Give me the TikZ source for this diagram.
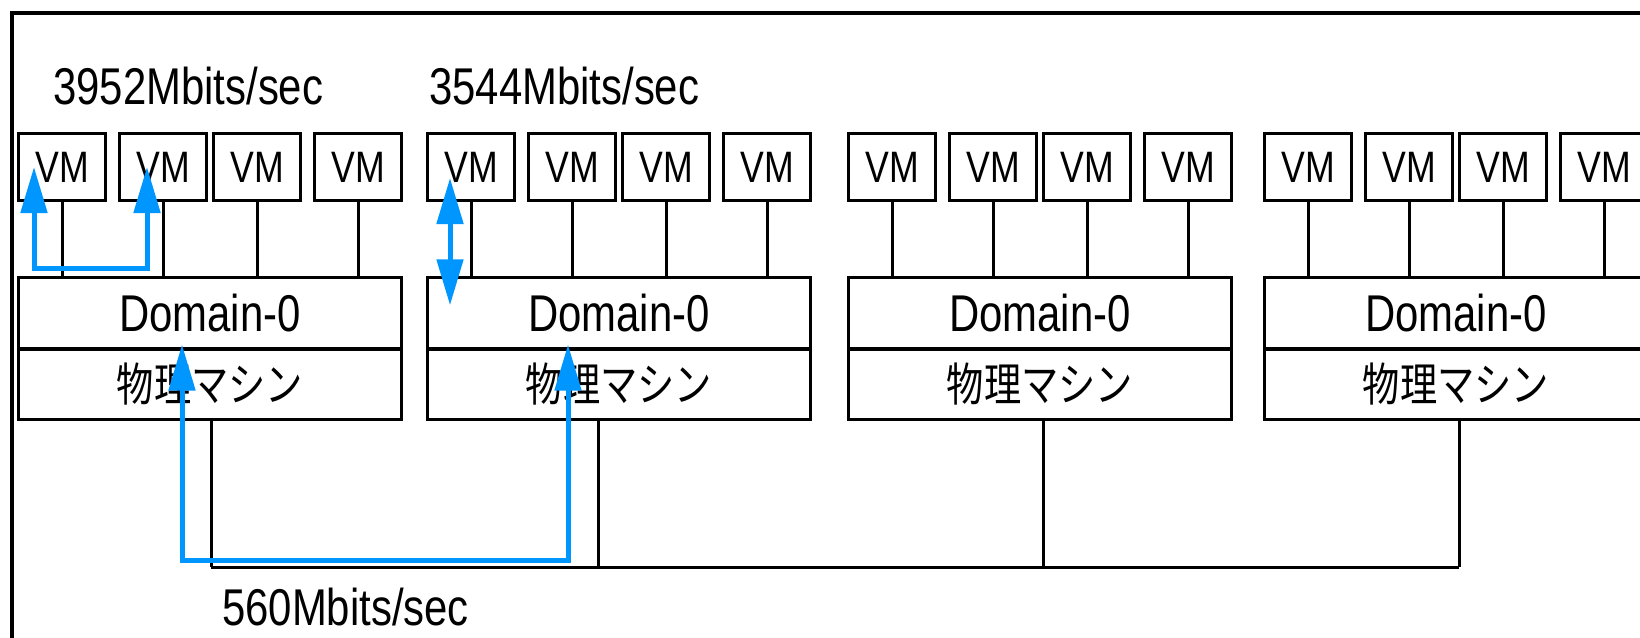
\documentclass[tikz,border=0pt]{standalone}
\usepackage{graphicx}
\usepackage{fontspec}
\setmainfont{Liberation Sans}
\newfontfamily\jpfont{Noto Sans CJK JP}
\usetikzlibrary{arrows.meta,calc}
\definecolor{flow}{RGB}{0,150,255}
\newcommand\hsq[1]{\scalebox{0.81}[1]{#1}}
\begin{document}
\begin{tikzpicture}[x=1pt,y=-1pt,
  vmbox/.style={draw, line width=3.2pt, minimum width=87pt, minimum height=67pt, inner sep=0pt, font=\fontsize{44}{50}\selectfont},
  dombox/.style={draw, line width=3.2pt, minimum width=383pt, minimum height=71.5pt, inner sep=0pt, font=\fontsize{51.7}{60}\selectfont},
  phybox/.style={draw, line width=3.2pt, minimum width=383pt, minimum height=70.5pt, inner sep=0pt, font=\jpfont\fontsize{46}{54}\selectfont},
  link/.style={line width=3pt},
  flowarrow/.style={draw=flow, line width=5pt, {Triangle[length=46pt,width=26pt]}-{Triangle[length=46pt,width=26pt]}},
  ratelabel/.style={anchor=base west, inner sep=0pt, font=\fontsize{51.7}{60}\selectfont}]
\useasboundingbox (0,0) rectangle (1640,637);
\clip (0,0) rectangle (1640,637);
\fill[white] (0,0) rectangle (1640,637);
\draw[line width=3.5pt] (12,13) rectangle (1700,700);

\foreach \b/\x in {1/17, 2/426, 3/847, 4/1263} {
  \foreach \i/\o in {1/0, 2/101, 3/195, 4/296} {
    \node[vmbox] (vm\b\i) at (\x+\o+45, 167) {\hsq{VM}};
  }
  \node[dombox] (dom\b) at (\x+193, 313.25) {\hsq{Domain-0}};
  \node[phybox] (phy\b) at (\x+193, 384.25) {\hsq{物理マシン}};
  \foreach \i in {1,...,4} {
    \draw[link] (vm\b\i.south) -- (vm\b\i.south |- dom\b.north);
  }
}

% network bus
\coordinate (d1) at ($(phy1.south)+(1,0)$);
\coordinate (d2) at ($(phy2.south)+(-21,0)$);
\coordinate (d3) at ($(phy3.south)+(3,0)$);
\coordinate (d4) at ($(phy4.south)+(3,0)$);
\coordinate (bus) at (0,567);
\foreach \k in {1,...,4} {
  \draw[link] (d\k) -- (d\k |- bus);
}
\draw[link] (d1 |- bus) -- (d4 |- bus);

% blue flows
\coordinate (a1) at ($(vm11.center)+(-28,0)$);
\coordinate (a2) at ($(vm12.center)+(-16,0)$);
\coordinate (aturn) at (0,268);
\draw[flowarrow] (a1) -- (a1 |- aturn) -- (a2 |- aturn) -- (a2);

\coordinate (b1) at ($(vm21.center)+(-21,11)$);
\coordinate (b2) at ($(dom2.center)+(-169,-8)$);
\draw[flowarrow] (b1) -- (b1 |- b2);

\coordinate (c1) at ($(dom1.south)+(-28,-6)$);
\coordinate (c2) at ($(dom2.south)+(-51,-6)$);
\coordinate (cturn) at (0,560);
\draw[flowarrow] (c1) -- (c1 |- cturn) -- (c2 |- cturn) -- (c2);

\node[ratelabel] (r1) at (53,104) {\hsq{3952Mbits/sec}};
\node[ratelabel] (r2) at (429,104) {\hsq{3544Mbits/sec}};
\node[ratelabel] (r3) at (222,625) {\hsq{560Mbits/sec}};
\end{tikzpicture}
\end{document}
